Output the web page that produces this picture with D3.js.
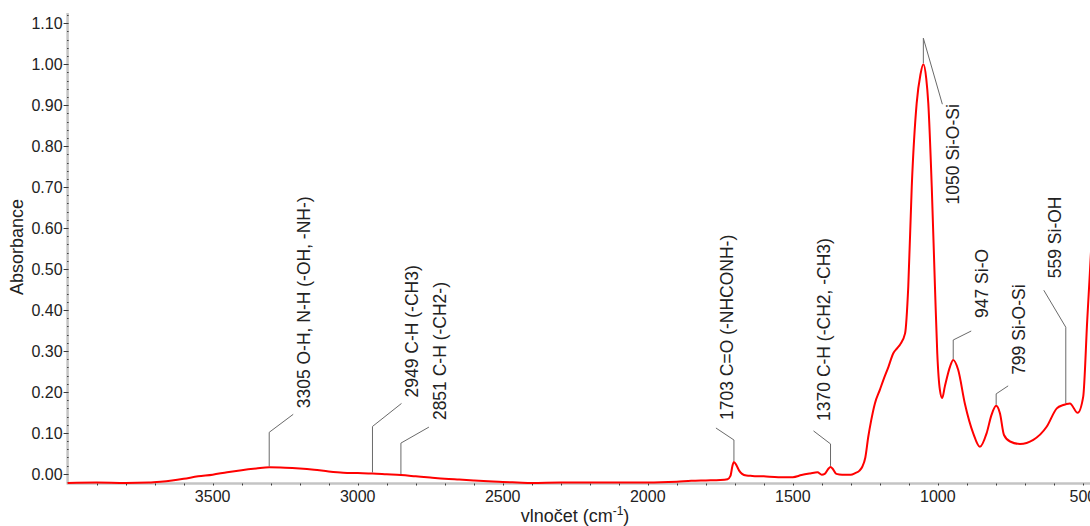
<!DOCTYPE html>
<html>
<head>
<meta charset="utf-8">
<script src="https://cdn.jsdelivr.net/npm/d3@7"></script>
<style>
  html, body { margin: 0; padding: 0; background: #fff; }
  svg { display: block; font-family: "Liberation Sans", Arial, sans-serif; }
</style>
</head>
<body>
<svg id="chart" width="1090" height="526"></svg>
<script>
// FTIR spectrum: wavenumber (cm-1) and absorbance
const wavenumber = [
  4000, 3900, 3800, 3720, 3680, 3640, 3600, 3550, 3500, 3450, 3400, 3350, 3305, 3250, 3200, 3150,
  3100, 3050, 3000, 2949, 2900, 2851, 2800, 2750, 2700, 2650, 2600, 2550, 2500, 2450, 2400, 2300,
  2200, 2100, 2000, 1900, 1850, 1800, 1750, 1725, 1715, 1708, 1703, 1695, 1685, 1675, 1660, 1640,
  1600, 1550, 1500, 1470, 1440, 1415, 1400, 1390, 1378, 1370, 1362, 1350, 1330, 1300, 1285, 1270,
  1260, 1250, 1240, 1230, 1217, 1200, 1188, 1170, 1154, 1140, 1130, 1113, 1102, 1090, 1073, 1060,
  1050, 1040, 1033, 1021, 1010, 1002, 993, 985, 976, 958, 947, 930, 907, 878, 855, 832,
  815, 799, 786, 772, 751, 717, 671, 625, 590, 568, 559, 545, 518, 499, 485, 476, 460, 440
];
const absorbance = [
  -0.022, -0.021, -0.022, -0.021, -0.019, -0.016, -0.012, -0.006, -0.002, 0.004, 0.009, 0.013, 0.016, 0.015, 0.013, 0.010,
  0.006, 0.003, 0.002, 0.001, -0.001, -0.003, -0.006, -0.009, -0.012, -0.014, -0.016, -0.018, -0.020, -0.021, -0.022, -0.021,
  -0.021, -0.021, -0.021, -0.019, -0.017, -0.016, -0.015, -0.013, -0.005, 0.020, 0.029, 0.022, 0.008, 0.000, -0.004, -0.005,
  -0.006, -0.008, -0.008, -0.003, 0.001, 0.004, -0.002, 0.000, 0.012, 0.017, 0.012, 0.000, -0.002, -0.002, 0.002, 0.008,
  0.018, 0.040, 0.090, 0.130, 0.172, 0.205, 0.229, 0.262, 0.294, 0.307, 0.316, 0.343, 0.457, 0.701, 0.905, 0.975,
  1.000, 0.965, 0.905, 0.700, 0.457, 0.294, 0.205, 0.185, 0.213, 0.262, 0.278, 0.254, 0.172, 0.099, 0.066, 0.099,
  0.144, 0.166, 0.148, 0.095, 0.079, 0.073, 0.083, 0.115, 0.160, 0.168, 0.170, 0.172, 0.149, 0.188, 0.376, 0.490, 0.700, 0.900
];

// Assigned bands
const peakWavenumbers = [3305, 2949, 2851, 1703, 1370, 1050, 947, 799, 559];
const peakLabels = [
  "3305 O-H, N-H (-OH, -NH-)",
  "2949 C-H (-CH3)",
  "2851 C-H (-CH2-)",
  "1703 C=O (-NHCONH-)",
  "1370 C-H (-CH2, -CH3)",
  "1050 Si-O-Si",
  "947 Si-O",
  "799 Si-O-Si",
  "559 Si-OH"
];

// Axis ticks
const yTickValues = [0, 0.1, 0.2, 0.3, 0.4, 0.5, 0.6, 0.7, 0.8, 0.9, 1.0, 1.1];
const xTickValues = [3500, 3000, 2500, 2000, 1500, 1000, 500];

// Leader-line geometry for each band label (pixels): vertical rise, then diagonal run
const leaderLayout = [
  { rise: 35, dx: 24, dy: -18, gap: 6 },
  { rise: 47, dx: 29, dy: -23, gap: 6 },
  { rise: 32, dx: 28, dy: -16, gap: 7 },
  { rise: 22, dx: -18, dy: -12, gap: 8 },
  { rise: 23, dx: -17, dy: -13, gap: 10 },
  { rise: 26, dx: 19, dy: 66, gap: 0, below: true },
  { rise: 20, dx: 18, dy: -9, gap: 13 },
  { rise: 12, dx: 12, dy: -8, gap: 11 },
  { rise: 77, dx: -22, dy: -37, gap: 12 }
];

const svg = d3.select("#chart");
const x = d3.scaleLinear().domain([4000, 500]).range([67.6, 1082.9]);
const y = d3.scaleLinear().domain([-0.0235, 1.125]).range([483.5, 13]);

const axisColor = "#c4c4c4";
const tickColor = "#3a3a3a";
const textColor = "#222";

// ---- Y axis ----
const yAxisG = svg.append("g");
yAxisG.append("line")
  .attr("x1", x(4000)).attr("x2", x(4000))
  .attr("y1", y(1.125)).attr("y2", y(-0.0235))
  .attr("stroke", axisColor).attr("stroke-width", 2.5);
const yMinor = d3.range(-0.02, 1.121, 0.02);
yAxisG.selectAll("line.minor").data(yMinor).join("line")
  .attr("class", "minor")
  .attr("x1", x(4000) - 0.5).attr("x2", x(4000) + 1)
  .attr("y1", d => Math.round(y(d)) + 0.5).attr("y2", d => Math.round(y(d)) + 0.5)
  .attr("stroke", tickColor).attr("stroke-width", 1);
yAxisG.selectAll("line.major").data(yTickValues).join("line")
  .attr("class", "major")
  .attr("x1", x(4000) - 4).attr("x2", x(4000))
  .attr("y1", d => Math.round(y(d)) + 0.5).attr("y2", d => Math.round(y(d)) + 0.5)
  .attr("stroke", tickColor).attr("stroke-width", 1);
yAxisG.selectAll("text").data(yTickValues).join("text")
  .attr("x", x(4000) - 5)
  .attr("y", d => y(d))
  .attr("dy", "0.36em")
  .attr("text-anchor", "end")
  .attr("font-size", 16)
  .attr("fill", textColor)
  .text(d => d3.format(".2f")(d));

svg.append("text")
  .attr("transform", "translate(23,247) rotate(-90)")
  .attr("text-anchor", "middle")
  .attr("font-size", 18)
  .attr("fill", textColor)
  .text("Absorbance");

// ---- X axis ----
const xAxisG = svg.append("g");
const axisY = y(-0.0235);
xAxisG.append("line")
  .attr("x1", x(4000) - 1).attr("x2", 1090)
  .attr("y1", axisY).attr("y2", axisY)
  .attr("stroke", axisColor).attr("stroke-width", 2.5);
const xMinor = d3.range(3900, 399, -100);
xAxisG.selectAll("line.minor").data(xMinor).join("line")
  .attr("class", "minor")
  .attr("x1", d => Math.round(x(d)) + 0.5).attr("x2", d => Math.round(x(d)) + 0.5)
  .attr("y1", axisY).attr("y2", axisY + 2)
  .attr("stroke", tickColor).attr("stroke-width", 1);
xAxisG.selectAll("text").data(xTickValues).join("text")
  .attr("x", d => x(d))
  .attr("y", 502)
  .attr("text-anchor", "middle")
  .attr("font-size", 16)
  .attr("fill", textColor)
  .text(d => d);

const xTitle = svg.append("text")
  .attr("x", 575).attr("y", 522)
  .attr("text-anchor", "middle")
  .attr("font-size", 18)
  .attr("fill", textColor);
xTitle.append("tspan").text("vlnočet (cm");
xTitle.append("tspan").attr("font-size", 12).attr("dy", -7).text("-1");
xTitle.append("tspan").attr("dy", 7).text(")");

// ---- Spectrum ----
const points = wavenumber.map((w, i) => [w, absorbance[i]]);
const line = d3.line()
  .x(d => x(d[0]))
  .y(d => y(d[1]))
  .curve(d3.curveMonotoneX);
svg.append("path")
  .datum(points)
  .attr("d", line)
  .attr("fill", "none")
  .attr("stroke", "#ff0000")
  .attr("stroke-width", 2)
  .attr("stroke-linejoin", "round");

// ---- Band labels with leader lines ----
const valueAt = w => absorbance[wavenumber.indexOf(w)];
const labelG = svg.append("g");
peakWavenumbers.forEach((w, i) => {
  const L = leaderLayout[i];
  const x0 = x(w), y0 = y(valueAt(w));
  const yElbow = y0 - L.rise;
  const xEnd = x0 + L.dx, yEnd = yElbow + L.dy;
  labelG.append("path")
    .attr("d", `M${x0},${y0 - 1}V${yElbow}L${xEnd},${yEnd}`)
    .attr("fill", "none")
    .attr("stroke", "#6a6a6a")
    .attr("stroke-width", 1);
  const tx = xEnd + 10.5;
  const ty = L.below ? yEnd + L.gap : yEnd - L.gap;
  labelG.append("text")
    .attr("transform", `translate(${tx},${ty}) rotate(-90)`)
    .attr("dy", "0.36em")
    .attr("text-anchor", L.below ? "end" : "start")
    .attr("font-size", 17.5)
    .attr("fill", textColor)
    .text(peakLabels[i]);
});
</script>
</body>
</html>
